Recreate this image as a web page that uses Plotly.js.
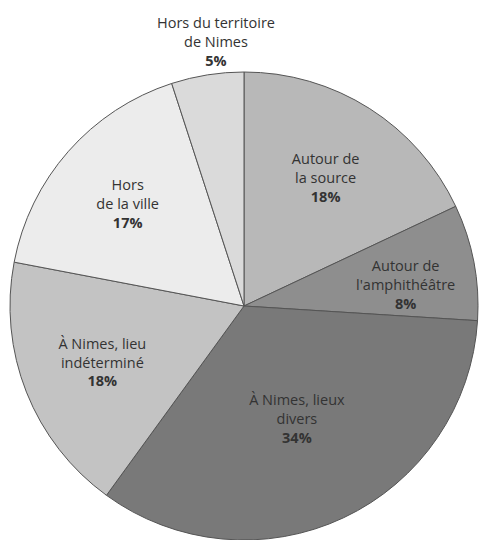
<!DOCTYPE html>
<html>
<head>
<meta charset="utf-8">
<script src="https://cdn.plot.ly/plotly-3.0.1.min.js"></script>
<style>html,body{margin:0;padding:0;background:#fff;}#chart{width:480px;height:540px;}</style>
</head>
<body>
<div id="chart"></div>
<script>
var labels = ["Autour de<br>la source", "Autour de<br>l'amphithéâtre", "À Nimes, lieux<br>divers", "À Nimes, lieu<br>indéterminé", "Hors<br>de la ville", "Hors du territoire<br>de Nimes"];
var values = [18, 8, 34, 18, 17, 5];
var colors = ["#b8b8b8", "#8e8e8e", "#797979", "#c3c3c3", "#ececec", "#dadada"];
var positions = ["inside", "none", "inside", "inside", "inside", "none"];

var font = {family: "Open Sans, sans-serif", size: 14.5, color: "#333333"};

var trace = {
  type: "pie",
  values: values,
  text: labels,
  sort: false,
  direction: "clockwise",
  rotation: 0,
  hole: 0,
  marker: {colors: colors, line: {color: "#555555", width: 1}},
  texttemplate: "%{text}<br><b>%{value}%</b>",
  textposition: positions,
  insidetextorientation: "horizontal",
  textfont: font,
  showlegend: false,
  hoverinfo: "none",
  domain: {x: [0, 1], y: [0, 1]}
};

function lbl(i, x, y, ya) {
  return {
    xref: "paper", yref: "paper", x: x, y: y, yanchor: ya, xanchor: "center",
    showarrow: false,
    text: labels[i] + "<br><b>" + values[i] + "%</b>",
    font: font
  };
}

var layout = {
  width: 480, height: 540,
  margin: {l: 10, r: 2, t: 72, b: 0},
  paper_bgcolor: "#ffffff",
  annotations: [lbl(5, 0.44, 1.0, "bottom"), lbl(1, 0.846, 0.547, "middle")]
};

Plotly.newPlot("chart", [trace], layout, {staticPlot: true});
</script>
</body>
</html>
